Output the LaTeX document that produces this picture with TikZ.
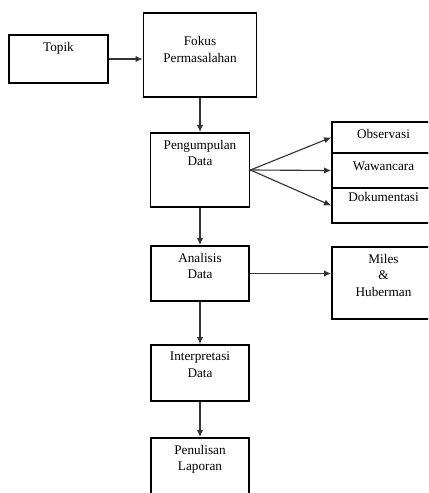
\documentclass[tikz,border=0pt]{standalone}
\usepackage{fontspec}
\setmainfont{Liberation Serif}
\usetikzlibrary{arrows.meta}

\begin{document}
\begin{tikzpicture}[x=0.025cm,y=-0.025cm,
  kotak/.style n args={2}{draw,line width=1.3pt,minimum width=#1*0.025cm,minimum height=#2*0.025cm,inner sep=0pt},
  isi/.style={align=center,font=\fontsize{9.4}{12}\selectfont,anchor=north,yshift=-2pt},
  panah/.style={draw=black!80,line width=0.8pt,-{Latex[length=5pt,width=4.5pt]}}]
\useasboundingbox (0,0) rectangle (428,493);
\clip (0,0) rectangle (428,493);
\node[kotak={99}{48},label={[isi]north:Topik}] (topik) at (58.5,59) {};
\node[kotak={113}{84},label={[isi,yshift=-11.5pt]north:Fokus\\Permasalahan}] (fokus) at (200,55) {};
\node[kotak={99}{74},label={[isi]north:Pengumpulan\\Data}] (kumpul) at (200,170) {};
\node[kotak={103}{31},label={[isi]north:Observasi}] (obs) at (383.5,137.5) {};
\node[kotak={103}{35},label={[isi,yshift=-1.5pt]north:Wawancara}] (waw) at (383.5,170.5) {};
\node[kotak={103}{35},label={[isi,yshift=1.5pt]north:Dokumentasi}] (dok) at (383.5,205.5) {};
\node[kotak={98}{55},label={[isi]north:Analisis\\Data}] (analisis) at (200,273.5) {};
\node[kotak={103}{72},label={[isi]north:Miles\\\&\\Huberman}] (miles) at (383.5,283) {};
\node[kotak={98}{56},label={[isi]north:Interpretasi\\Data}] (interp) at (200,373) {};
\node[kotak={98}{58},label={[isi]north:Penulisan\\Laporan}] (tulis) at (200,467) {};

\draw[panah] (topik.east) -- (topik.east -| fokus.west);
\draw[panah] (fokus.south) -- (kumpul.north);
\foreach \k in {obs,waw,dok}
  \draw[panah] (kumpul.east) -- (\k.west);
\draw[panah] (kumpul.south) -- (analisis.north);
\draw[panah] (analisis.east) -- (analisis.east -| miles.west);
\draw[panah] (analisis.south) -- (interp.north);
\draw[panah] (interp.south) -- (tulis.north);
\end{tikzpicture}
\end{document}
